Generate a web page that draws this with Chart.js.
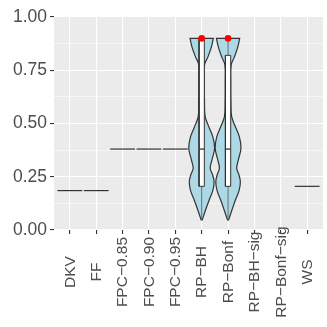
<!DOCTYPE html>
<html>
<head>
<meta charset="utf-8">
<script src="https://cdn.jsdelivr.net/npm/chart.js@4.4.1/dist/chart.umd.min.js"></script>
<style>
  html, body { margin: 0; padding: 0; background: #ffffff; }
</style>
</head>
<body>
<canvas id="violinChart" width="327" height="327"></canvas>
<script>
const categories = ['DKV', 'FF', 'FPC−0.85', 'FPC−0.90', 'FPC−0.95', 'RP−BH', 'RP−Bonf', 'RP−BH−sig', 'RP−Bonf−sig', 'WS'];
const yTicks = [0, 0.25, 0.5, 0.75, 1];
const yMinor = [0.125, 0.375, 0.625, 0.875];

// methods where every value is the same -> violin collapses to a flat line
const flatIndex = [0, 1, 2, 3, 4, 9];
const flatValue = [0.185, 0.185, 0.38, 0.38, 0.38, 0.205];

const violinIndex = [5, 6];
const densityY = [0.045, 0.094, 0.141, 0.185, 0.225, 0.26, 0.29, 0.33, 0.385, 0.438, 0.485, 0.532, 0.6, 0.7, 0.775, 0.814, 0.861, 0.90];
const densityBH = [0.03, 0.3, 0.58, 0.86, 0.96, 0.84, 0.66, 0.8, 1.0, 0.86, 0.55, 0.27, 0.22, 0.21, 0.22, 0.49, 0.76, 0.9];
const densityBonf = [0.03, 0.3, 0.57, 0.85, 0.95, 0.84, 0.67, 0.8, 1.0, 0.87, 0.57, 0.28, 0.22, 0.21, 0.24, 0.5, 0.76, 0.9];

// boxplot stats for the two violins
const boxLower = [0.05, 0.05];
const boxQ1 = [0.205, 0.205];
const boxMedian = [0.38, 0.38];
const boxQ3 = [0.90, 0.82];
const boxUpper = [0.90, 0.90];
const redPoint = [0.90, 0.90];

const densities = [densityBH, densityBonf];
const VIOLIN_HALF = 0.49;
const FLAT_HALF = 0.47;
const BOX_HALF = 0.1;
const OUTLINE = '#333333';

function violinShape(c, dens) {
  const right = densityY.map((y, k) => ({x: c + dens[k] * VIOLIN_HALF, y: y}));
  const left = densityY.map((y, k) => ({x: c - dens[k] * VIOLIN_HALF, y: y})).reverse();
  // top corners repeated so the trimmed top stays flat
  return [...right, right[right.length - 1], left[0], ...left];
}

const datasets = [];

violinIndex.forEach((c, k) => {
  datasets.push({
    data: violinShape(c, densities[k]),
    fill: 'shape',
    backgroundColor: '#ADD8E6',
    borderColor: OUTLINE,
    borderWidth: 1.2,
    tension: 0.4,
    order: 5
  });
});

flatIndex.forEach((c, k) => {
  datasets.push({
    data: [{x: c - FLAT_HALF, y: flatValue[k]}, {x: c + FLAT_HALF, y: flatValue[k]}],
    borderColor: OUTLINE,
    borderWidth: 1.2,
    fill: false,
    order: 5
  });
});

violinIndex.forEach((c, k) => {
  datasets.push({
    data: [{x: c, y: boxLower[k]}, {x: c, y: boxQ1[k]}],
    borderColor: '#555555',
    borderWidth: 0.8,
    order: 4
  });
  datasets.push({
    data: [{x: c, y: boxQ3[k]}, {x: c, y: boxUpper[k]}],
    borderColor: '#555555',
    borderWidth: 0.8,
    order: 4
  });
  datasets.push({
    data: [
      {x: c - BOX_HALF, y: boxQ1[k]}, {x: c + BOX_HALF, y: boxQ1[k]},
      {x: c + BOX_HALF, y: boxQ3[k]}, {x: c - BOX_HALF, y: boxQ3[k]},
      {x: c - BOX_HALF, y: boxQ1[k]}
    ],
    fill: 'shape',
    backgroundColor: '#ffffff',
    borderColor: OUTLINE,
    borderWidth: 1,
    order: 3
  });
  datasets.push({
    data: [{x: c - BOX_HALF, y: boxMedian[k]}, {x: c + BOX_HALF, y: boxMedian[k]}],
    borderColor: OUTLINE,
    borderWidth: 1.3,
    order: 2
  });
});

datasets.push({
  data: violinIndex.map((c, k) => ({x: c, y: redPoint[k]})),
  showLine: false,
  pointRadius: 3.4,
  pointBackgroundColor: '#ff0000',
  pointBorderWidth: 0,
  order: 1
});

const panelBackground = {
  id: 'panelBackground',
  beforeDraw(chart) {
    const {ctx, chartArea: a} = chart;
    ctx.save();
    ctx.fillStyle = '#EBEBEB';
    ctx.fillRect(a.left, a.top, a.width, a.height);
    ctx.restore();
  }
};

// ggplot centres the rotated category labels
const centredXLabels = {
  id: 'centredXLabels',
  afterDraw(chart) {
    const {ctx, chartArea, scales} = chart;
    ctx.save();
    ctx.fillStyle = '#4D4D4D';
    ctx.font = '15.5px "Liberation Sans", Arial, sans-serif';
    ctx.textAlign = 'center';
    ctx.textBaseline = 'middle';
    categories.forEach((label, i) => {
      ctx.save();
      ctx.translate(scales.x.getPixelForValue(i) + 0.5, chartArea.bottom + 42);
      ctx.rotate(-Math.PI / 2);
      ctx.fillText(label, 0, 0);
      ctx.restore();
    });
    ctx.restore();
  }
};

const isMajor = v => yTicks.includes(v);

new Chart(document.getElementById('violinChart'), {
  type: 'line',
  data: {datasets: datasets},
  options: {
    responsive: false,
    animation: false,
    devicePixelRatio: 1,
    layout: {padding: {top: 17, right: 4, bottom: 93, left: 0}},
    elements: {point: {radius: 0}},
    plugins: {legend: {display: false}, tooltip: {enabled: false}},
    scales: {
      x: {
        type: 'linear',
        min: -0.6,
        max: 9.6,
        afterBuildTicks: s => { s.ticks = categories.map((_, i) => ({value: i})); },
        ticks: {display: false},
        grid: {color: '#ffffff', lineWidth: 1.1, tickLength: 4, tickColor: OUTLINE},
        border: {display: false}
      },
      y: {
        type: 'linear',
        min: 0,
        max: 1,
        afterBuildTicks: s => { s.ticks = [...yTicks, ...yMinor].sort((a, b) => a - b).map(v => ({value: v})); },
        afterFit: s => { s.width = 54; },
        ticks: {
          autoSkip: false,
          padding: 3,
          color: '#4D4D4D',
          font: {family: '"Liberation Sans", Arial, sans-serif', size: 17.5},
          callback: v => isMajor(v) ? v.toFixed(2) : ''
        },
        grid: {
          color: '#ffffff',
          lineWidth: c => isMajor(c.tick.value) ? 1.1 : 0.55,
          tickLength: 4,
          tickColor: c => isMajor(c.tick.value) ? OUTLINE : 'rgba(0,0,0,0)'
        },
        border: {display: false}
      }
    }
  },
  plugins: [panelBackground, centredXLabels]
});
</script>
</body>
</html>
